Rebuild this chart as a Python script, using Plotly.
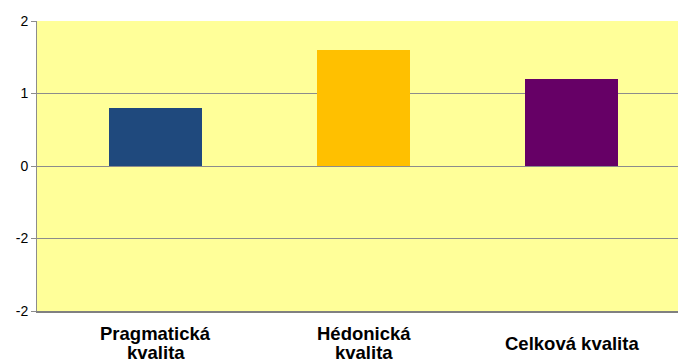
import plotly.graph_objects as go

categories = ["Pragmatická kvalita", "Hédonická kvalita", "Celková kvalita"]
label_lines = [["Pragmatická", "kvalita"], ["Hédonická", "kvalita"], ["Celková kvalita"]]
values = [0.8, 1.6, 1.2]
colors = ["#1F497D", "#FFC000", "#660066"]
y_tickvals = [2, 1, 0, -1, -2]
y_ticktext = ["2", "1", "0", "-2", "-2"]

fig = go.Figure()
fig.add_trace(go.Bar(
    x=categories, y=values, marker=dict(color=colors, line=dict(width=0)),
    width=0.447, showlegend=False,
))

annotations = []
for cat, lines in zip(categories, label_lines):
    n = len(lines)
    for i, line in enumerate(lines):
        offset = (i - (n - 1) / 2) * 19
        annotations.append(dict(
            x=cat, xref="x", y=0, yref="paper", yanchor="middle", xanchor="center",
            yshift=-(32 + offset), text="<b>" + line + "</b>", showarrow=False,
            borderpad=0,
            font=dict(family="Liberation Sans, Arial, sans-serif", size=18.5, color="#000"),
        ))

fig.update_layout(
    width=678, height=364,
    margin=dict(l=37, r=0, t=21, b=53),
    paper_bgcolor="white", plot_bgcolor="#FFFF99",
    font=dict(family="Liberation Sans, Arial, sans-serif", size=14, color="#000"),
    annotations=annotations,
    xaxis=dict(
        type="category", range=[-0.57, 2.512], showticklabels=False,
        showgrid=False, zeroline=False, showline=True, linecolor="#808080", linewidth=2,
        ticks="", fixedrange=True,
    ),
    yaxis=dict(
        range=[-2, 2], tickvals=y_tickvals, ticktext=y_ticktext,
        showgrid=True, gridcolor="#8C8C8C", gridwidth=1, zeroline=False,
        showline=True, linecolor="#8C8C8C", linewidth=1,
        ticks="outside", ticklen=5, tickcolor="#8C8C8C",
        tickfont=dict(size=14, color="#000"), fixedrange=True,
    ),
    bargap=0,
)

fig.write_html("out.html")
